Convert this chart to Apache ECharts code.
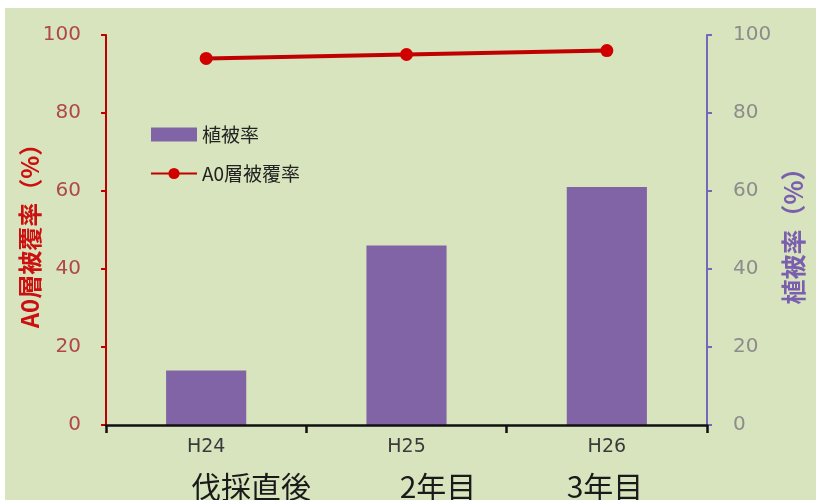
<!DOCTYPE html>
<html>
<head>
<meta charset="utf-8">
<script src="https://cdn.jsdelivr.net/npm/echarts@6/dist/echarts.min.js"></script>
<style>
html,body{margin:0;padding:0;background:#ffffff;}
#chart{width:816px;height:500px;}
</style>
</head>
<body>
<div id="chart"></div>
<script>
const categories = ['H24', 'H25', 'H26'];
const vegetationCover = [14, 46, 61];
const a0Cover = [94, 95, 96];
const periodLabels = ['伐採直後', '2年目', '3年目'];
const periodLabelX = [251, 438, 605];
const seriesNames = ['植被率', 'A0層被覆率'];
const leftAxisName = 'A0層被覆率（%）';
const rightAxisName = '植被率（%）';

const chart = echarts.init(document.getElementById('chart'));
const fontFamily = '"DejaVu Sans","Noto Sans CJK JP",sans-serif';

const graphics = [{
  type: 'rect', z: -10, silent: true,
  shape: { x: 5, y: 8, width: 811, height: 492 },
  style: { fill: '#d7e4bd' }
}];
periodLabels.forEach((t, i) => {
  graphics.push({
    type: 'text', x: periodLabelX[i], y: 472,
    style: { text: t, fill: '#1a1a1a', font: '30px "Noto Sans CJK JP",sans-serif', align: 'center', verticalAlign: 'top' }
  });
});

chart.setOption({
  animation: false,
  textStyle: { fontFamily: fontFamily },
  graphic: graphics,
  grid: { left: 106, right: 109, top: 35, bottom: 75, containLabel: false },
  legend: {
    orient: 'vertical', left: 145, top: 120,
    itemWidth: 46, itemHeight: 14, itemGap: 20,
    textStyle: { fontSize: 19, color: '#222222', fontFamily: '"Noto Sans CJK JP",sans-serif' },
    data: [
      { name: seriesNames[0], icon: 'rect' },
      { name: seriesNames[1] }
    ]
  },
  xAxis: {
    type: 'category',
    data: categories,
    axisLine: { lineStyle: { color: '#111111', width: 2.5 } },
    axisTick: { show: true, alignWithLabel: false, length: 8, lineStyle: { color: '#111111', width: 2.5 } },
    axisLabel: { fontSize: 19, color: '#3a3a3a', margin: 13 },
    z: 5
  },
  yAxis: [{
    type: 'value', min: 0, max: 100, interval: 20,
    position: 'left',
    name: leftAxisName, nameLocation: 'middle', nameGap: 64, nameRotate: 90,
    nameMoveOverlap: false,
    nameTextStyle: { color: '#cc1010', fontSize: 24, fontWeight: 'bold', fontFamily: '"Noto Sans CJK JP",sans-serif' },
    axisLine: { show: true, lineStyle: { color: '#c00000', width: 2 } },
    axisTick: { show: true, length: 5, lineStyle: { color: '#c00000', width: 2 } },
    axisLabel: { fontSize: 20, color: '#b04848', margin: 25 },
    splitLine: { show: false }
  }, {
    type: 'value', min: 0, max: 100, interval: 20,
    position: 'right',
    name: rightAxisName, nameLocation: 'middle', nameGap: 74, nameRotate: 90,
    nameMoveOverlap: false,
    nameTextStyle: { color: '#7a5fae', fontSize: 25, fontWeight: 'bold', fontFamily: '"Noto Sans CJK JP",sans-serif' },
    axisLine: { show: true, lineStyle: { color: '#7468b8', width: 2 } },
    axisTick: { show: true, length: 5, lineStyle: { color: '#7468b8', width: 2 } },
    axisLabel: { fontSize: 20, color: '#8c8c8c', margin: 26 },
    splitLine: { show: false }
  }],
  series: [{
    name: seriesNames[0],
    type: 'bar',
    yAxisIndex: 1,
    data: vegetationCover,
    barWidth: '40%',
    itemStyle: { color: '#8064a6' }
  }, {
    name: seriesNames[1],
    type: 'line',
    yAxisIndex: 0,
    data: a0Cover,
    symbol: 'circle',
    symbolSize: 13,
    lineStyle: { color: '#c00000', width: 4 },
    itemStyle: { color: '#d00000' },
    z: 10
  }]
});
</script>
</body>
</html>
